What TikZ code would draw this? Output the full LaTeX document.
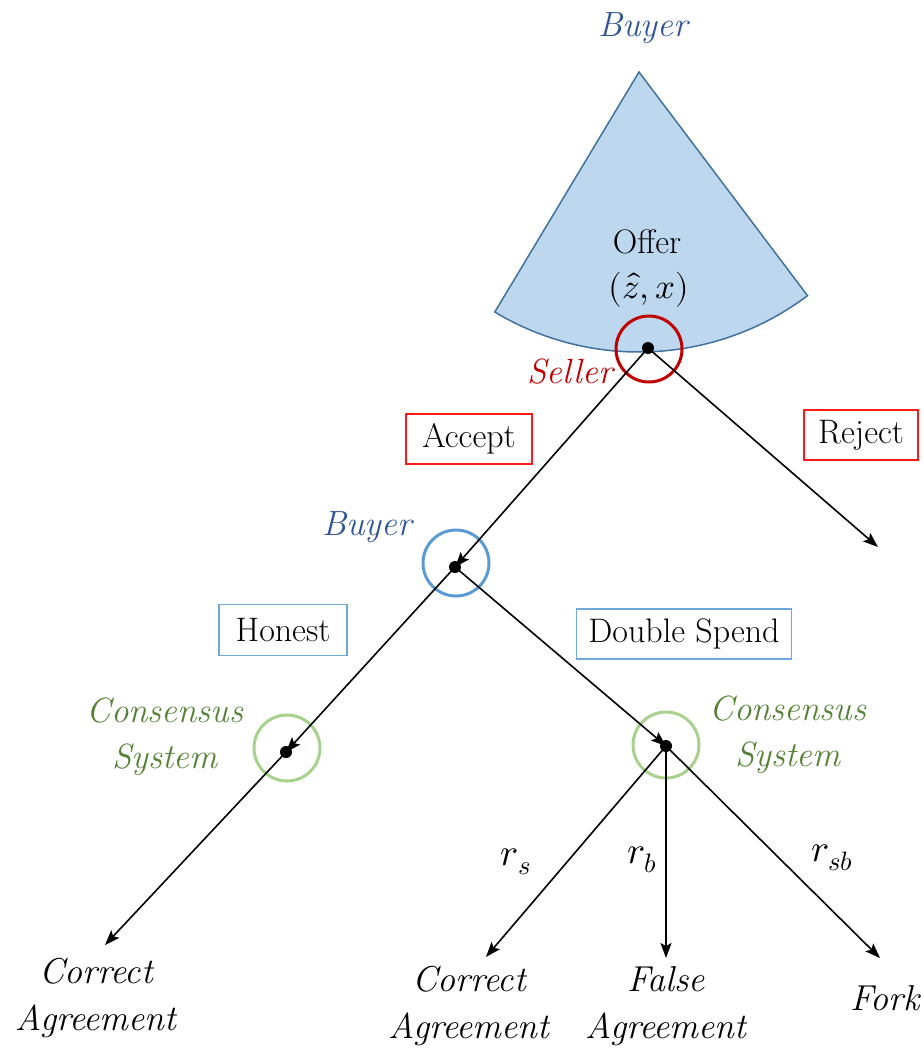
\documentclass[tikz,border=0pt]{standalone}
\usepackage{unicode-math}
\usetikzlibrary{arrows.meta}
\definecolor{sectorfill}{HTML}{BDD7EE}
\definecolor{sectorline}{HTML}{41719C}
\definecolor{buyertext}{HTML}{2F5597}
\definecolor{sellerred}{HTML}{C00000}
\definecolor{boxred}{HTML}{FF1A1A}
\definecolor{buyerring}{HTML}{5B9BD5}
\definecolor{boxblue}{HTML}{6FA8DC}
\definecolor{consring}{HTML}{A9D18E}
\definecolor{constext}{HTML}{548235}
\tikzset{
  plain/.style={font=\fontsize{34}{40}\selectfont},
  player/.style={font=\fontsize{35}{46}\itshape\selectfont, align=center},
  outcome/.style={font=\fontsize{36}{47}\itshape\selectfont, align=center},
  prob/.style={font=\fontsize{38}{44}\selectfont},
  actbox/.style={plain, draw, line width=1.3pt, inner sep=0pt},
  ring/.style={circle, draw, line width=3pt, minimum size=66pt, inner sep=0pt},
  move/.style={line width=1.6pt, -{Stealth[length=15pt,width=11pt,inset=3pt]}},
}
\begin{document}
\begin{tikzpicture}[x=1pt,y=-1pt]
\useasboundingbox (0,0) rectangle (924,1053);

% information set of the buyer's offer
\draw[fill=sectorfill, draw=sectorline, line width=1.5pt]
  (639,72) -- ++(121:280) arc[start angle=121, end angle=53, radius=280] -- cycle;
\node[player, text=buyertext] (buyertop) at (643,28) {Buyer};
\node[plain, inner sep=0pt, anchor=base] (offer) at (647,253) {Offer};
\node[plain, inner sep=0pt, anchor=base, font=\fontsize{35}{40}\selectfont] (offerpair) at (649,298) {$(\hat{z},x)$};

% decision nodes: rings, and the points where the moves meet
\node[ring, draw=sellerred] (sring) at (649,349) {};
\node[ring, draw=buyerring] (bring) at (456,563) {};
\node[ring, draw=consring] (c1ring) at (287,748) {};
\node[ring, draw=consring] (c2ring) at (666,745) {};

\coordinate (s) at (648,348);
\coordinate (b) at (455,567);
\coordinate (c1) at (286,752);
\coordinate (c2) at (666,746);

% terminal points
\coordinate (rejend) at (878,547);
\coordinate (hend) at (105,945);
\coordinate (rsend) at (486,957);
\coordinate (rbend) at (666,958);
\coordinate (rsbend) at (880,958);

% moves
\draw[move] (s) -- (b);
\draw[move] (s) -- (rejend);
\draw[move] (b) -- (c1);
\draw[move] (b) -- (c2);
\draw[move] (c1) -- (hend);
\draw[move] (c2) -- (rsend);
\draw[move] (c2) -- (rbend);
\draw[move] (c2) -- (rsbend);

% node dots, drawn over the arrow tips
\foreach \p in {s,b,c1,c2} \fill (\p) circle[radius=6pt];

% player labels
\node[player, text=sellerred] (seller) at (570,372) {Seller};
\node[player, text=buyertext] (buyermid) at (367,527) {Buyer};
\node[player, text=constext] (cons1) at (165,737) {Consensus\\System};
\node[player, text=constext] (cons2) at (788,735) {Consensus\\System};

% action boxes
\node[actbox, draw=boxred, minimum width=126pt, minimum height=50pt] (accept) at (469,439) {Accept};
\node[actbox, draw=boxred, minimum width=114pt, minimum height=50pt] (reject) at (861,435) {Reject};
\node[actbox, draw=boxblue, minimum width=128pt, minimum height=51pt] (honest) at (283,630) {Honest};
\node[actbox, draw=boxblue, minimum width=215pt, minimum height=50pt] (dspend) at (684,634) {Double Spend};

% probabilities
\node[prob] (rs) at (516,862) {$r_s$};
\node[prob] (rb) at (642,860) {$r_b$};
\node[prob] (rsb) at (832,858) {$r_{sb}$};

% outcomes
\node[outcome] (o1) at (96,998) {Correct\\Agreement};
\node[outcome] (o2) at (469,1006) {Correct\\Agreement};
\node[outcome] (o3) at (666,1006) {False\\Agreement};
\node[outcome] (o4) at (885,998) {Fork};
\end{tikzpicture}
\end{document}
